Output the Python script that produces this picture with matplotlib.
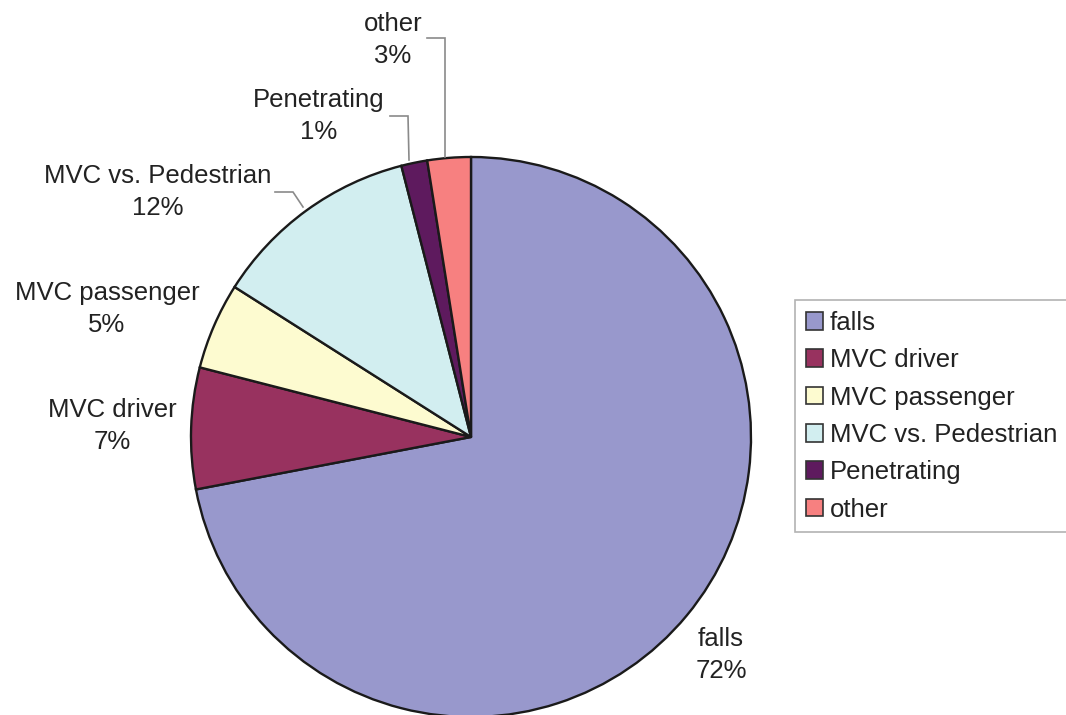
import matplotlib
matplotlib.use("Agg")
import matplotlib.pyplot as plt

# ---- data ----
categories = ["falls", "MVC driver", "MVC passenger", "MVC vs. Pedestrian", "Penetrating", "other"]
values = [72, 7, 5, 12, 1.5, 2.5]
pct_labels = ["72%", "7%", "5%", "12%", "1%", "3%"]
colors = ["#9898cc", "#98325f", "#fdfbd0", "#d2eef0", "#5e1a5e", "#f78080"]

plt.rcParams['font.family'] = ['Liberation Sans', 'DejaVu Sans']

W, H = 1066, 715
fig = plt.figure(figsize=(W / 100, H / 100), dpi=100)
ax = fig.add_axes([0, 0, 1, 1])
ax.set_xlim(0, W)
ax.set_ylim(0, H)
ax.set_aspect('equal')
ax.axis('off')

def py(y):  # pixel-from-top to data y
    return H - y

cx, cy, r = 471, py(437), 280
wedges, _ = ax.pie(values, colors=colors, startangle=90, counterclock=False,
                   center=(cx, cy), radius=r, frame=False,
                   wedgeprops=dict(edgecolor='#1a1a1a', linewidth=1.7))
ax.set_xlim(0, W)
ax.set_ylim(0, H)
ax.axis('off')

fs = 18.5
txtc = '#222222'
label_pos = {
    "falls": (721, 655),
    "MVC driver": (112, 426),
    "MVC passenger": (107, 309),
    "MVC vs. Pedestrian": (158, 192),
    "Penetrating": (319, 116),
    "other": (393, 40),
}
for cat, pct in zip(categories, pct_labels):
    x, y = label_pos[cat]
    ax.text(x, py(y), f"{cat}\n{pct}", ha='center', va='center', fontsize=fs,
            color=txtc, linespacing=1.45)

# leader lines
lc = '#8a8a8a'
leaders = [
    [(445, 157), (445, 38), (427, 38)],
    [(409, 160), (408, 116), (390, 116)],
    [(303, 207), (293, 192), (275, 192)],
]
for pts in leaders:
    xs = [p[0] for p in pts]
    ys = [py(p[1]) for p in pts]
    ax.plot(xs, ys, color=lc, linewidth=1.2, solid_joinstyle='miter')

leg = fig.legend(wedges, categories, loc='upper left',
                 bbox_to_anchor=(795 / W, 1 - 300 / H), borderaxespad=0,
                 fontsize=fs, frameon=True, fancybox=False,
                 handlelength=0.68, handleheight=0.68, handletextpad=0.25,
                 labelspacing=0.52, borderpad=0.42)
leg.get_frame().set_edgecolor('#a0a0a0')
leg.get_frame().set_linewidth(1.2)
for t in leg.get_texts():
    t.set_color(txtc)
for h in leg.legend_handles:
    h.set_edgecolor('#333333')
    h.set_linewidth(1.2)

fig.savefig("out.png", dpi=100, facecolor='white')
